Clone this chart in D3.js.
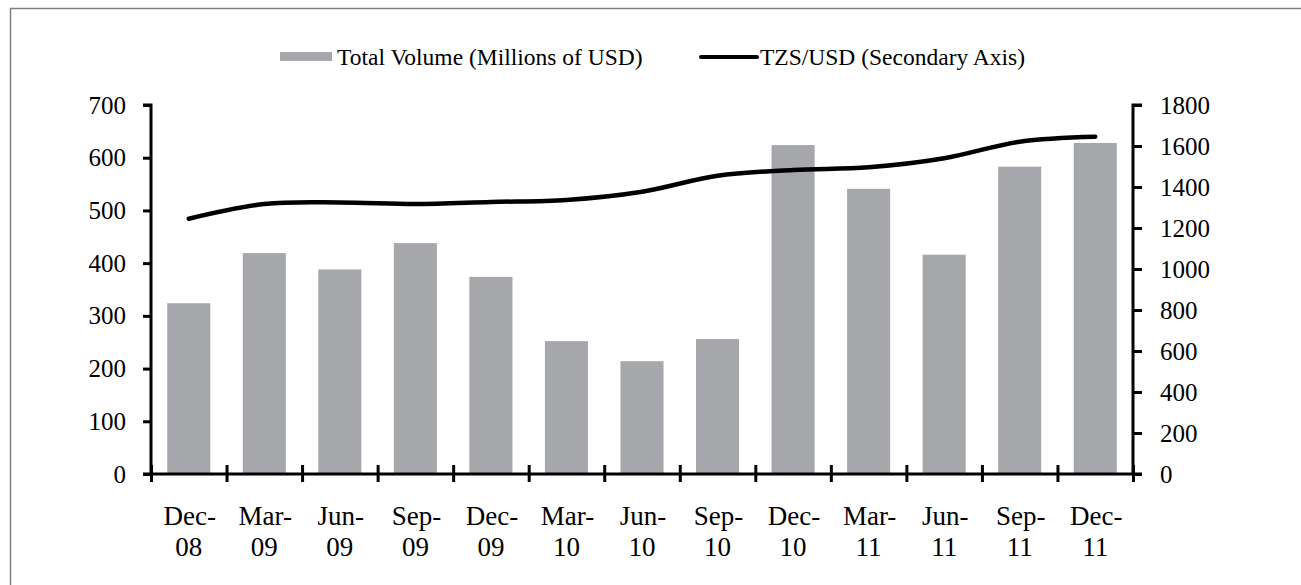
<!DOCTYPE html>
<html>
<head>
<meta charset="utf-8">
<script src="https://cdnjs.cloudflare.com/ajax/libs/d3/7.8.5/d3.min.js"></script>
<style>
  body { margin: 0; background: #fff; }
  text { font-family: "Liberation Serif", "DejaVu Serif", serif; fill: #000; }
</style>
</head>
<body>
<script>
// data
var months = ["Dec-", "Mar-", "Jun-", "Sep-", "Dec-", "Mar-", "Jun-", "Sep-", "Dec-", "Mar-", "Jun-", "Sep-", "Dec-"];
var years = ["08", "09", "09", "09", "09", "10", "10", "10", "10", "11", "11", "11", "11"];
var volume = [324, 419, 388, 438, 374, 252, 214, 256, 624, 541, 416, 583, 628];
var tzsUsd = [1245, 1317, 1325, 1317, 1327, 1337, 1377, 1455, 1483, 1496, 1540, 1621, 1645];
var leftTicks = [0, 100, 200, 300, 400, 500, 600, 700];
var rightTicks = [0, 200, 400, 600, 800, 1000, 1200, 1400, 1600, 1800];

//Width and height of SVG canvas
var w = 1301;
var h = 585;

var x0 = 151, x1 = 1133;
var yTop = 105, yBottom = 474;

var svg = d3.select("body")
			.append("svg")
			.attr("width", w)
			.attr("height", h);

// outer frame (top and left edges show)
svg.append("path")
	.attr("d", "M10.5," + h + "V8.5H" + (w + 2))
	.attr("fill", "none")
	.attr("stroke", "#808080")
	.attr("stroke-width", 1.5);

var cats = d3.range(months.length);

var x = d3.scaleBand()
	.domain(cats)
	.range([x0, x1])
	.paddingInner(0.43)
	.paddingOuter(0.215);

var xb = d3.scaleBand()
	.domain(cats)
	.range([x0, x1]);

var yL = d3.scaleLinear().domain([0, 700]).range([yBottom, yTop]);
var yR = d3.scaleLinear().domain([0, 1800]).range([yBottom, yTop]);

// bars
svg.selectAll("rect.bar")
	.data(volume)
	.enter()
	.append("rect")
	.attr("class", "bar")
	.attr("x", function(d, i) { return x(i); })
	.attr("y", function(d) { return yL(d); })
	.attr("width", x.bandwidth())
	.attr("height", function(d) { return yBottom - yL(d); })
	.attr("fill", "#a6a7ab");

// exchange rate line, smoothed like the original
var line = d3.line()
	.x(function(d, i) { return xb(i) + xb.bandwidth() / 2; })
	.y(function(d) { return yR(d); })
	.curve(d3.curveCatmullRom.alpha(0));

svg.append("path")
	.datum(tzsUsd)
	.attr("d", line)
	.attr("fill", "none")
	.attr("stroke", "#000")
	.attr("stroke-width", 4.5)
	.attr("stroke-linecap", "round")
	.attr("stroke-linejoin", "round");

// left axis
var axL = svg.append("g")
	.attr("transform", "translate(" + x0 + ",0)")
	.call(d3.axisLeft(yL).tickValues(leftTicks).tickSize(8).tickPadding(17).tickFormat(d3.format("d")));

// right axis
var axR = svg.append("g")
	.attr("transform", "translate(" + x1 + ",0)")
	.call(d3.axisRight(yR).tickValues(rightTicks).tickSize(9).tickPadding(18).tickFormat(d3.format("d")));

// bottom axis, ticks cross the line
var axB = svg.append("g")
	.attr("transform", "translate(0," + yBottom + ")")
	.call(d3.axisBottom(d3.scaleLinear().domain([0, 13]).range([x0, x1]))
		.tickValues(d3.range(0, 14)).tickSize(8).tickFormat(""));

axB.selectAll(".tick line").attr("y1", -9);
axB.select(".domain").attr("d", "M" + (x0 - 8) + ",0H" + (x1 + 9));

[axL, axR, axB].forEach(function(g) {
	g.select(".domain").attr("stroke", "#000").attr("stroke-width", 3);
	g.selectAll(".tick line").attr("stroke", "#000").attr("stroke-width", 3);
	g.selectAll(".tick text").style("font-size", "25px").attr("font-family", null).attr("fill", "#000");
});
axL.select(".domain").attr("d", "M-8," + yTop + "H0V" + yBottom);
axR.select(".domain").attr("d", "M9," + yTop + "H0V" + yBottom);

// category labels on two lines
var lab = svg.selectAll("text.xlab")
	.data(cats)
	.enter()
	.append("text")
	.attr("class", "xlab")
	.attr("text-anchor", "middle")
	.style("font-size", "27px");

lab.append("tspan")
	.attr("x", function(d) { return xb(d) + xb.bandwidth() / 2 + 1; })
	.attr("y", 525)
	.text(function(d) { return months[d]; });

lab.append("tspan")
	.attr("x", function(d) { return xb(d) + xb.bandwidth() / 2; })
	.attr("y", 556)
	.text(function(d) { return years[d]; });

// legend
svg.append("rect")
	.attr("x", 280).attr("y", 52)
	.attr("width", 52).attr("height", 9)
	.attr("fill", "#a6a7ab");

svg.append("text")
	.attr("x", 337).attr("y", 65)
	.style("font-size", "23.5px")
	.text("Total Volume (Millions of USD)");

svg.append("line")
	.attr("x1", 701).attr("x2", 757)
	.attr("y1", 57).attr("y2", 57)
	.attr("stroke", "#000")
	.attr("stroke-width", 4)
	.attr("stroke-linecap", "round");

svg.append("text")
	.attr("x", 760).attr("y", 65)
	.style("font-size", "23.5px")
	.text("TZS/USD (Secondary Axis)");
</script>
</body>
</html>
